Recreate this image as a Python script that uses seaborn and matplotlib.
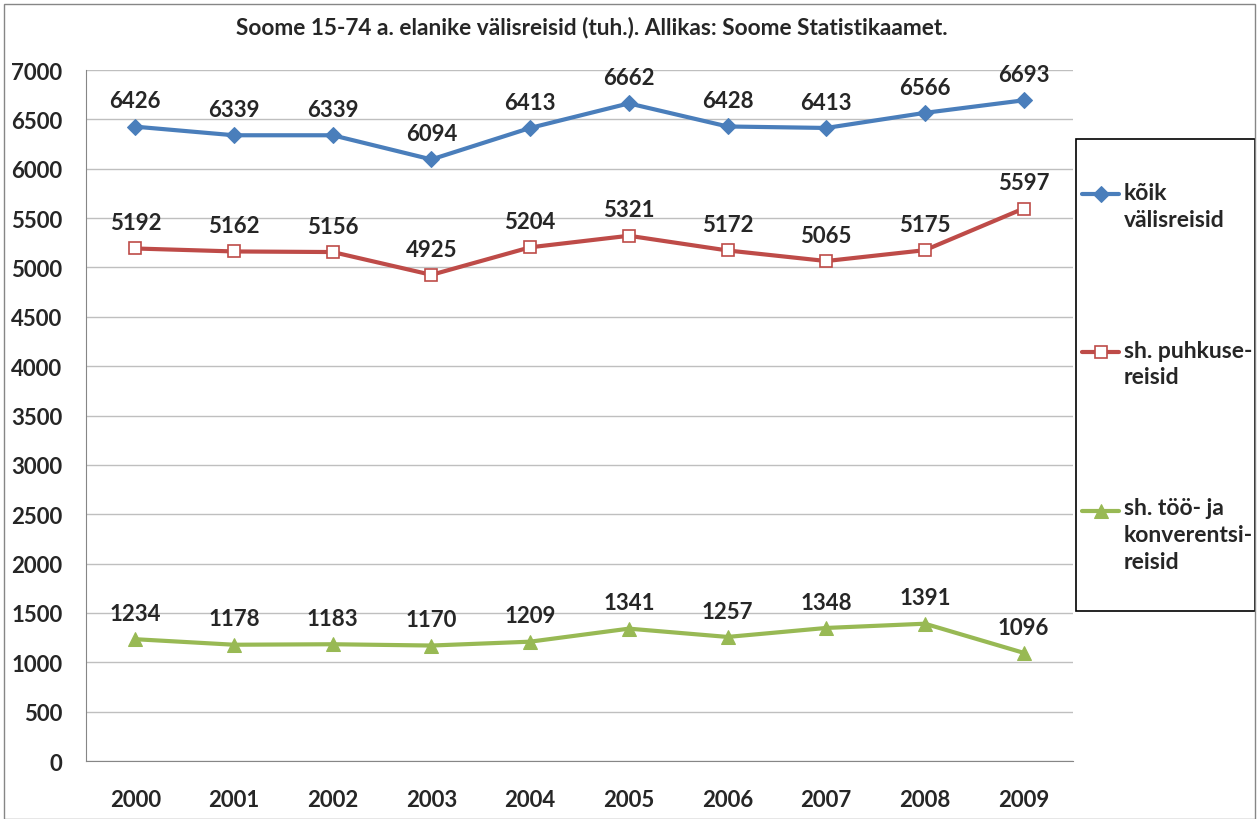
import numpy as np
import pandas as pd
import matplotlib
matplotlib.use("Agg")
import matplotlib.pyplot as plt
import seaborn as sns
from matplotlib.patches import Rectangle
from matplotlib.legend_handler import HandlerLine2D

sns.set_style("white")
plt.rcParams['font.family'] = ['Lato', 'DejaVu Sans']

# data
years = ['2000', '2001', '2002', '2003', '2004', '2005', '2006', '2007', '2008', '2009']
koik = [6426, 6339, 6339, 6094, 6413, 6662, 6428, 6413, 6566, 6693]
puhkus = [5192, 5162, 5156, 4925, 5204, 5321, 5172, 5065, 5175, 5597]
too = [1234, 1178, 1183, 1170, 1209, 1341, 1257, 1348, 1391, 1096]
labels = ['kõik\nvälisreisid', 'sh. puhkuse-\nreisid', 'sh. töö- ja\nkonverentsi-\nreisid']

colors = ['#4A7EBB', '#BE4B48', '#98B954']
markers = ['D', 's', '^']

LEG_FS = 16.5
LEG_LS = 1.35


# legend handle lined up with the first line of a multi-line label (like Excel)
class FirstLineHandler(HandlerLine2D):
    def __init__(self, nlines, **kw):
        super().__init__(**kw)
        self.nlines = nlines

    def create_artists(self, legend, orig_handle, xdescent, ydescent, width, height, fontsize, trans):
        shift = (self.nlines - 1) / 2 * fontsize * LEG_LS * 0.8
        return super().create_artists(legend, orig_handle, xdescent, ydescent - 2 * shift,
                                      width, height, fontsize, trans)


fig = plt.figure(figsize=(12.57, 8.2), dpi=100)
ax = fig.add_axes([0.0684, 0.0707, 0.7852, 0.8427])

xs = np.arange(len(years))
for vals, lab, col, mk in zip([koik, puhkus, too], labels, colors, markers):
    df = pd.DataFrame({'x': xs, 'y': vals})
    if mk == 's':
        sns.lineplot(data=df, x='x', y='y', ax=ax, color=col, lw=3, marker=mk,
                     markersize=9, markerfacecolor='white', markeredgecolor=col,
                     markeredgewidth=1.2, label=lab)
    else:
        sns.lineplot(data=df, x='x', y='y', ax=ax, color=col, lw=3, marker=mk,
                     markersize=10 if mk == '^' else 8, markeredgecolor=col, label=lab)
    for x, v in zip(xs, vals):
        ax.annotate(str(v), (x, v), xytext=(0, 11), textcoords='offset points',
                    ha='center', va='bottom', fontsize=16, fontweight='bold')

ax.set_xlim(-0.5, 9.5)
ax.set_ylim(0, 7000)
ax.set_yticks(range(0, 7001, 500))
ax.set_yticklabels([str(v) for v in range(0, 7001, 500)], fontsize=16, fontweight='bold')
ax.set_xticks(xs)
ax.set_xticklabels(years, fontsize=16, fontweight='bold')
ax.set_xticks(np.arange(-0.5, 10, 1), minor=True)
ax.tick_params(axis='x', which='major', length=0, pad=20)
ax.tick_params(axis='x', which='minor', length=6, color='#868686', direction='out')
ax.tick_params(axis='y', length=6, color='#868686', direction='out', pad=11)
ax.grid(axis='y', color='#BFBFBF', lw=1)
ax.set_axisbelow(True)
for s in ['top', 'right']:
    ax.spines[s].set_visible(False)
for s in ['left', 'bottom']:
    ax.spines[s].set_color('#868686')
ax.set_xlabel('')
ax.set_ylabel('')

ax.get_legend().remove()
handles, labs = ax.get_legend_handles_labels()
hmap = {h: FirstLineHandler(l.count('\n') + 1) for h, l in zip(handles, labs)}
leg = fig.legend(handles, labs, loc='center left', bbox_to_anchor=(1080 / 1257, 1 - 378 / 820),
                 frameon=False, prop={'weight': 'bold', 'size': LEG_FS}, labelspacing=4.8,
                 handlelength=1.6, handletextpad=0.2, borderpad=0.1, borderaxespad=0,
                 handler_map=hmap)
for t in leg.get_texts():
    t.set_linespacing(LEG_LS)

# legend box
fig.patches.append(Rectangle((1076 / 1257, 1 - 612 / 820), 179 / 1257, 472 / 820,
                             transform=fig.transFigure, fill=False, edgecolor='black', lw=1.2))

fig.text(592 / 1257, 1 - 27 / 820, 'Soome 15-74 a. elanike välisreisid (tuh.). Allikas: Soome Statistikaamet.',
         ha='center', va='center', fontsize=16.3, fontweight='bold')

# outer chart border
fig.patches.append(Rectangle((4 / 1257, 0), 1 - 6 / 1257, 1 - 5 / 820, transform=fig.transFigure,
                             fill=False, edgecolor='#868686', lw=1))

fig.savefig('out.png', dpi=100)
